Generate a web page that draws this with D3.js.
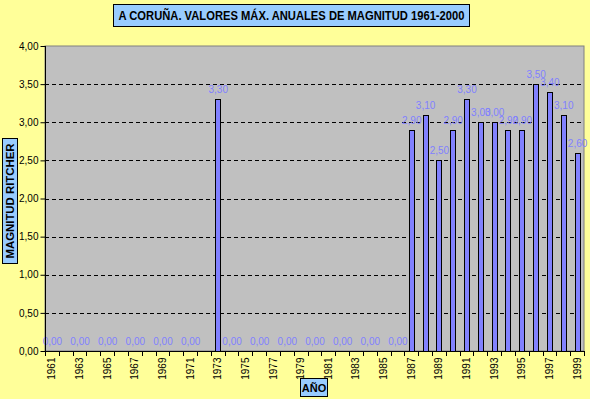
<!DOCTYPE html>
<html><head><meta charset="utf-8">
<script src="https://cdn.jsdelivr.net/npm/d3@7"></script>
<style>
html,body{margin:0;padding:0;background:#FFFF99;}
svg{display:block;font-family:Arial,"Liberation Sans",sans-serif;}
</style></head>
<body>
<svg id="chart" width="590" height="399"></svg>
<script>
const years = ["1961","1962","1963","1964","1965","1966","1967","1968","1969","1970",
"1971","1972","1973","1974","1975","1976","1977","1978","1979","1980",
"1981","1982","1983","1984","1985","1986","1987","1988","1989","1990",
"1991","1992","1993","1994","1995","1996","1997","1998","1999"];
const values = [0,null,0,null,0,null,0,null,0,null,
0,null,3.3,0,null,0,null,0,null,0,
null,0,null,0,null,0,2.9,3.1,2.5,2.9,
3.3,3.0,3.0,2.9,2.9,3.5,3.4,3.1,2.6];
const yTicks = [0,0.5,1,1.5,2,2.5,3,3.5,4];
const title = "A CORUÑA. VALORES MÁX. ANUALES DE MAGNITUD 1961-2000";
const yTitle = "MAGNITUD RITCHER";
const xTitle = "AÑO";

const svg = d3.select("#chart");
const L = 45, R = 584, T = 46, B = 351;
const fmt = v => v.toFixed(2).replace(".", ",");

const x = d3.scaleBand().domain(years).range([L, R]).paddingInner(0).paddingOuter(0);
const y = d3.scaleLinear().domain([0, 4]).range([B, T]);

// plot area
svg.append("rect").attr("x", L).attr("y", T).attr("width", R - L).attr("height", B - T)
  .attr("fill", "#C0C0C0").attr("stroke", "#808080").attr("stroke-width", 1);

// gridlines
svg.append("g").selectAll("line").data(yTicks.filter(d => d > 0 && d < 4)).join("line")
  .attr("x1", L).attr("x2", R)
  .attr("y1", d => Math.round(y(d)) + 0.5).attr("y2", d => Math.round(y(d)) + 0.5)
  .attr("stroke", "#000").attr("stroke-dasharray", "4,3");

// bars
const data = years.map((yr, i) => ({yr, v: values[i]}));
const bw = 5;
svg.append("g").selectAll("rect").data(data.filter(d => d.v)).join("rect")
  .attr("x", d => Math.round(x(d.yr) + x.bandwidth() / 2 - bw / 2) + 0.5)
  .attr("y", d => Math.round(y(d.v)) + 0.5)
  .attr("width", bw)
  .attr("height", d => B - Math.round(y(d.v)))
  .attr("fill", "#8080FF").attr("stroke", "#000").attr("stroke-width", 1);

// data labels
svg.append("g").selectAll("text").data(data.filter(d => d.v !== null)).join("text")
  .attr("x", d => x(d.yr) + x.bandwidth() / 2 + 0.5)
  .attr("y", d => y(d.v) - 6)
  .attr("text-anchor", "middle")
  .attr("font-size", 10).attr("fill", "#8080FF")
  .text(d => fmt(d.v));

// y axis
const ya = d3.axisLeft(y).tickValues(yTicks).tickFormat(fmt).tickSize(5).tickPadding(2);
const gy = svg.append("g").attr("transform", `translate(${L + 0.5},0)`).call(ya);
gy.select(".domain").attr("stroke", "#000").attr("d", `M0,${T}V${B + 0.5}`);
gy.selectAll("text").attr("font-size", 10).attr("fill", "#000").attr("font-family", "Arial,'Liberation Sans',sans-serif");
gy.selectAll(".tick line").attr("stroke", "#000");

// x axis
const xa = d3.axisBottom(x).tickValues(years.filter((d, i) => i % 2 === 0)).tickSize(0).tickPadding(0);
const gx = svg.append("g").attr("transform", `translate(0,${B + 0.5})`).call(xa);
gx.select(".domain").attr("stroke", "#000").attr("d", `M${L},0H${R}`);
gx.selectAll("text")
  .attr("font-size", 10).attr("fill", "#000").attr("font-family", "Arial,'Liberation Sans',sans-serif")
  .attr("transform", "rotate(-90)").attr("text-anchor", "end")
  .attr("x", -6).attr("y", 0).attr("dy", "0.35em");
// boundary tick marks
svg.append("g").selectAll("line").data(years.concat(["end"])).join("line")
  .attr("x1", (d, i) => Math.round(L + i * x.bandwidth()) + 0.5)
  .attr("x2", (d, i) => Math.round(L + i * x.bandwidth()) + 0.5)
  .attr("y1", B).attr("y2", B + 5).attr("stroke", "#000");

// title box
const tb = svg.append("g");
tb.append("rect").attr("x", 113.5).attr("y", 4.5).attr("width", 356).attr("height", 22)
  .attr("fill", "#99CCFF").attr("stroke", "#000");
tb.append("text").attr("x", 291.5).attr("y", 20).attr("text-anchor", "middle")
  .attr("font-size", 12).attr("font-weight", "bold")
  .attr("textLength", 346).attr("lengthAdjust", "spacingAndGlyphs").text(title);

// y title
const yb = svg.append("g");
yb.append("rect").attr("x", 2.5).attr("y", 138.5).attr("width", 15).attr("height", 125)
  .attr("fill", "#99CCFF").attr("stroke", "#000");
yb.append("text").attr("transform", "translate(14,201) rotate(-90)").attr("text-anchor", "middle")
  .attr("font-size", 11).attr("font-weight", "bold")
  .attr("textLength", 115).attr("lengthAdjust", "spacingAndGlyphs").text(yTitle);

// x title
const xb = svg.append("g");
xb.append("rect").attr("x", 300.5).attr("y", 378.5).attr("width", 27).attr("height", 18)
  .attr("fill", "#99CCFF").attr("stroke", "#000");
xb.append("text").attr("x", 314).attr("y", 391.5).attr("text-anchor", "middle")
  .attr("font-size", 11).attr("font-weight", "bold").text(xTitle);
</script>
</body></html>
